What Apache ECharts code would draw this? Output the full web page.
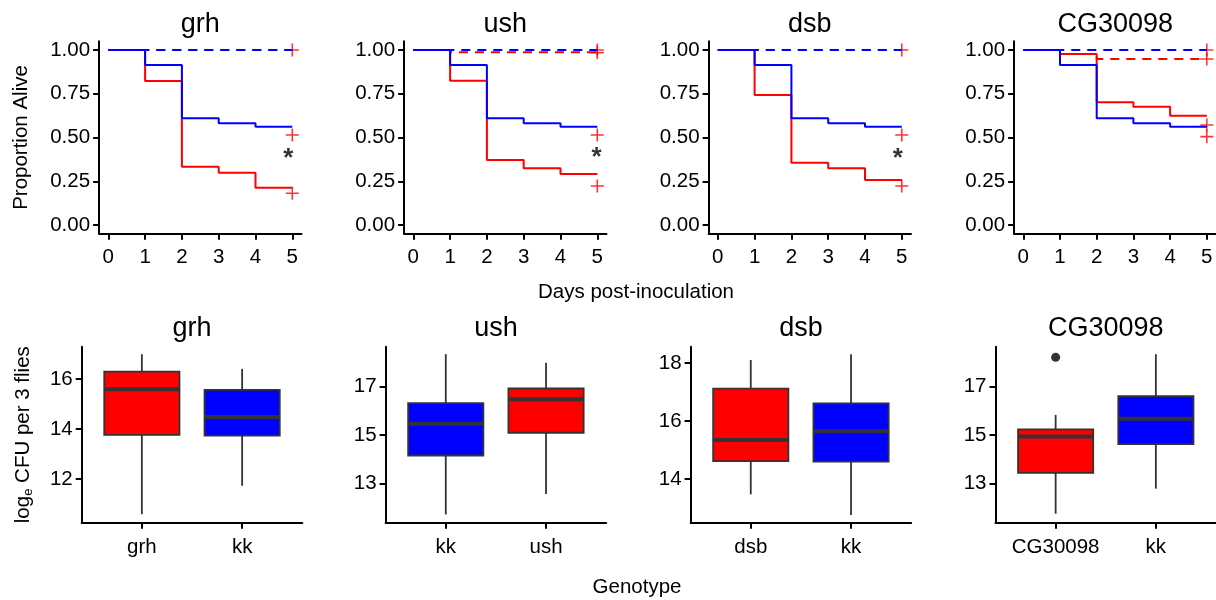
<!DOCTYPE html>
<html><head><meta charset="utf-8">
<script src="https://cdn.jsdelivr.net/npm/echarts@6/dist/echarts.min.js"></script>
<style>html,body{margin:0;padding:0;background:#fff}#c{width:1216px;height:600px}</style>
</head><body><div id="c"></div>
<script>
// ---------- data ----------
const days = [0, 1, 2, 3, 4, 5];
const survivalTitles = ['grh', 'ush', 'dsb', 'CG30098'];
const survivalTicksY = [0, 0.25, 0.5, 0.75, 1];

// blue (kk) infected, same in every panel
const kkInfected = [1, 0.914, 0.61, 0.581, 0.562, 0.562];
// blue (kk) uninfected control
const kkControl = [1, 1, 1, 1, 1, 1];

// red (mutant) infected
const grhInfected = [1, 0.823, 0.333, 0.299, 0.213, 0.213];
const ushInfected = [1, 0.825, 0.371, 0.324, 0.291, 0.291];
const dsbInfected = [1, 0.743, 0.356, 0.324, 0.257, 0.257];
const cgInfected  = [1, 0.977, 0.701, 0.676, 0.625, 0.625];

// red (mutant) uninfected control
const grhControl = [1, 1, 1, 1, 1, 1];
const ushControl = [1, 0.987, 0.987, 0.987, 0.987, 0.987];
const dsbControl = [1, 1, 1, 1, 1, 1];
const cgControl  = [1, 0.977, 0.949, 0.949, 0.949, 0.949];

// censor marks (+) at day 5
const grhCensor = [1.0, 0.514, 0.181];
const ushCensor = [1.0, 0.985, 0.514, 0.223];
const dsbCensor = [1.0, 0.514, 0.223];
const cgCensor  = [1.0, 0.949, 0.571, 0.505];

// significance asterisks [day, proportion]
const grhStar = [[4.89, 0.38]];
const ushStar = [[4.98, 0.385]];
const dsbStar = [[4.89, 0.38]];
const cgStar  = [];

// box plots: [low whisker, Q1, median, Q3, high whisker]
const boxTitles = ['grh', 'ush', 'dsb', 'CG30098'];
const grhBoxCats = ['grh', 'kk'];
const grhBoxStats = [[10.59, 13.77, 15.60, 16.30, 17.00], [11.73, 13.74, 14.48, 15.57, 16.41]];
const ushBoxCats = ['kk', 'ush'];
const ushBoxStats = [[11.71, 14.15, 15.46, 16.32, 18.34], [12.56, 15.09, 16.48, 16.92, 17.99]];
const dsbBoxCats = ['dsb', 'kk'];
const dsbBoxStats = [[13.47, 14.62, 15.35, 17.12, 18.11], [12.76, 14.60, 15.65, 16.61, 18.31]];
const cgBoxCats = ['CG30098', 'kk'];
const cgBoxStats = [[11.74, 13.43, 14.94, 15.23, 15.83], [12.78, 14.62, 15.67, 16.60, 18.34]];
const cgOutliers = [['CG30098', 18.21]];

const grhBoxTicks = [12, 14, 16];
const ushBoxTicks = [13, 15, 17];
const dsbBoxTicks = [14, 16, 18];
const cgBoxTicks  = [13, 15, 17];

// ---------- layout / style ----------
const RED = '#FF0000', BLUE = '#0000FF', INK = '#000000', BOXLINE = '#333333';
const FONT = '"Liberation Sans", Arial, Helvetica, sans-serif';
const topLefts = [99.1, 404.1, 708.6, 1014.1];
const topW = 202.4, topTop = 41.25, topH = 192.5;
const botLefts = [81.7, 385.6, 690.6, 995.5];
const botW = 220.6, botTop = 346.7, botH = 176;
const botRanges = [[10.25, 17.30], [11.37, 18.65], [12.49, 18.57], [11.37, 18.65]];

const survPanels = [
  { inf: grhInfected, ctl: grhControl, cen: grhCensor, star: grhStar },
  { inf: ushInfected, ctl: ushControl, cen: ushCensor, star: ushStar },
  { inf: dsbInfected, ctl: dsbControl, cen: dsbCensor, star: dsbStar },
  { inf: cgInfected,  ctl: cgControl,  cen: cgCensor,  star: cgStar }
];
const boxPanels = [
  { cats: grhBoxCats, stats: grhBoxStats, ticks: grhBoxTicks, out: [] },
  { cats: ushBoxCats, stats: ushBoxStats, ticks: ushBoxTicks, out: [] },
  { cats: dsbBoxCats, stats: dsbBoxStats, ticks: dsbBoxTicks, out: [] },
  { cats: cgBoxCats,  stats: cgBoxStats,  ticks: cgBoxTicks,  out: cgOutliers }
];

const axisLine = { show: true, onZero: false, lineStyle: { color: INK, width: 2 } };
const axisTickBase = { show: true, length: 6, lineStyle: { color: INK, width: 2 } };
const labelBase = { color: INK, fontSize: 20.5, fontFamily: FONT };

const grid = [], xAxis = [], yAxis = [], series = [];

const pairs = a => days.map((d, i) => [d, a[i]]);
const plusPath = 'path://M44,0h12v44h44v12h-44v44h-12v-44h-44v-12h44z';

survPanels.forEach((p, i) => {
  grid.push({ left: topLefts[i], top: topTop, width: topW, height: topH, containLabel: false });
  xAxis.push({
    type: 'value', gridIndex: i, min: -0.25, max: 5.25,
    axisLine, splitLine: { show: false },
    axisTick: Object.assign({ customValues: days }, axisTickBase),
    axisLabel: Object.assign({ customValues: days, margin: 13 }, labelBase)
  });
  yAxis.push({
    type: 'value', gridIndex: i, min: -0.05, max: 1.05,
    axisLine, splitLine: { show: false },
    axisTick: Object.assign({ customValues: survivalTicksY }, axisTickBase),
    axisLabel: Object.assign({ customValues: survivalTicksY, margin: 9, formatter: v => v.toFixed(2) }, labelBase)
  });
  const common = { xAxisIndex: i, yAxisIndex: i, type: 'line', step: 'end', symbol: 'none', silent: true, animation: false };
  series.push(Object.assign({ data: pairs(p.ctl), lineStyle: { color: RED, width: 2, type: [9, 7] } }, common));
  series.push(Object.assign({ data: pairs(kkControl), lineStyle: { color: BLUE, width: 2, type: [9, 7] } }, common));
  series.push(Object.assign({ data: pairs(p.inf), lineStyle: { color: RED, width: 2 } }, common));
  series.push(Object.assign({ data: pairs(kkInfected), lineStyle: { color: BLUE, width: 2 } }, common));
  series.push({
    type: 'scatter', xAxisIndex: i, yAxisIndex: i, silent: true, animation: false,
    symbol: plusPath, symbolSize: 13, itemStyle: { color: RED },
    data: p.cen.map(v => [5, v])
  });
  if (p.star.length) {
    series.push({
      type: 'scatter', xAxisIndex: i, yAxisIndex: i, silent: true, animation: false,
      symbolSize: 0, data: p.star,
      label: { show: true, position: 'inside', formatter: '*', color: INK, fontSize: 26, fontWeight: 'bold', fontFamily: FONT }
    });
  }
});

boxPanels.forEach((p, j) => {
  const gi = 4 + j;
  grid.push({ left: botLefts[j], top: botTop, width: botW, height: botH, containLabel: false });
  xAxis.push({
    type: 'value', gridIndex: gi, min: 0.4, max: 2.6,
    axisLine, splitLine: { show: false },
    axisTick: Object.assign({ customValues: [1, 2] }, axisTickBase),
    axisLabel: Object.assign({ customValues: [1, 2], margin: 14, formatter: v => p.cats[Math.round(v) - 1] }, labelBase)
  });
  yAxis.push({
    type: 'value', gridIndex: gi, min: botRanges[j][0], max: botRanges[j][1],
    axisLine, splitLine: { show: false },
    axisTick: Object.assign({ customValues: p.ticks }, axisTickBase),
    axisLabel: Object.assign({ customValues: p.ticks, margin: 9 }, labelBase)
  });
  series.push({
    type: 'custom', xAxisIndex: gi, yAxisIndex: gi, silent: true, animation: false,
    data: p.stats.map((s, k) => [k + 1].concat(s)),
    renderItem: (params, api) => {
      const x = api.value(0);
      const pLo = api.coord([x, api.value(1)]);
      const pQ1 = api.coord([x, api.value(2)]);
      const pMd = api.coord([x, api.value(3)]);
      const pQ3 = api.coord([x, api.value(4)]);
      const pHi = api.coord([x, api.value(5)]);
      const w = api.size([0.75, 0])[0];
      const cx = pLo[0];
      const fill = p.cats[Math.round(x) - 1] === 'kk' ? BLUE : RED;
      return {
        type: 'group', children: [
          { type: 'line', shape: { x1: cx, y1: pHi[1], x2: cx, y2: pQ3[1] }, style: { stroke: BOXLINE, lineWidth: 1.8 } },
          { type: 'line', shape: { x1: cx, y1: pQ1[1], x2: cx, y2: pLo[1] }, style: { stroke: BOXLINE, lineWidth: 1.8 } },
          { type: 'rect', shape: { x: cx - w / 2, y: pQ3[1], width: w, height: pQ1[1] - pQ3[1] }, style: { fill, stroke: BOXLINE, lineWidth: 1.8 } },
          { type: 'line', shape: { x1: cx - w / 2, y1: pMd[1], x2: cx + w / 2, y2: pMd[1] }, style: { stroke: BOXLINE, lineWidth: 4 } }
        ]
      };
    }
  });
  if (p.out.length) {
    series.push({
      type: 'scatter', xAxisIndex: gi, yAxisIndex: gi, silent: true, animation: false,
      symbol: 'circle', symbolSize: 9, itemStyle: { color: INK },
      data: p.out.map(o => [p.cats.indexOf(o[0]) + 1, o[1]])
    });
  }
});

const graphic = [];
const textEl = (text, x, y, size, rot) => ({
  type: 'text', x, y, rotation: rot || 0, silent: true,
  style: { text, fontSize: size, fontFamily: FONT, fill: INK, textAlign: 'center', align: 'center', textVerticalAlign: 'middle', verticalAlign: 'middle' }
});
survivalTitles.forEach((t, i) => graphic.push(textEl(t, topLefts[i] + topW / 2, 25, 27)));
boxTitles.forEach((t, j) => graphic.push(textEl(t, botLefts[j] + botW / 2, 329, 27)));
graphic.push(textEl('Days post-inoculation', 636, 292, 20.5));
graphic.push(textEl('Genotype', 637, 587, 20.5));
graphic.push(textEl('Proportion Alive', 21, 137.5, 20.5, Math.PI / 2));
graphic.push({
  type: 'text', x: 23, y: 434.7, rotation: Math.PI / 2, silent: true,
  style: {
    text: '{n|log}{s|e}{n| CFU per 3 flies}', fill: INK, fontFamily: FONT,
    textAlign: 'center', align: 'center', textVerticalAlign: 'middle', verticalAlign: 'middle',
    rich: {
      n: { fontSize: 20.5, lineHeight: 24, fontFamily: FONT, fill: INK, color: INK, verticalAlign: 'middle' },
      s: { fontSize: 13, lineHeight: 12, fontFamily: FONT, fill: INK, color: INK, verticalAlign: 'bottom' }
    }
  }
});

const chart = echarts.init(document.getElementById('c'), null, { renderer: 'canvas' });
chart.setOption({ animation: false, backgroundColor: '#ffffff', grid, xAxis, yAxis, series, graphic });
</script>
</body></html>
